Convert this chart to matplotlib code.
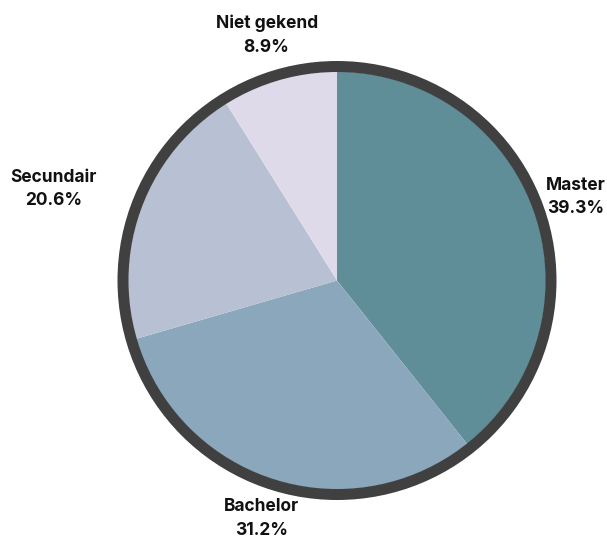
import numpy as np
import matplotlib
matplotlib.use("Agg")
import matplotlib.pyplot as plt
from matplotlib.patches import Circle

# Opleidingsniveau
categories = ["Master", "Bachelor", "Secundair", "Niet gekend"]
values = [39.3, 31.2, 20.6, 8.9]
colors = ["#5f8d98", "#8ba7bb", "#b7c1d3", "#dedaea"]

W, H = 607, 540
fig = plt.figure(figsize=(W / 100, H / 100), dpi=100)
ax = fig.add_axes([0, 0, 1, 1])

cx, cy = 337, H - 280.5
r = 209

wedges, _ = ax.pie(values, colors=colors, startangle=90, counterclock=False,
                   center=(cx, cy), radius=r, frame=True,
                   wedgeprops=dict(linewidth=0))
ax.set_xlim(0, W)
ax.set_ylim(0, H)
ax.set_aspect("equal")
ax.axis("off")

# donkere rand
ax.add_patch(Circle((cx, cy), r + 5, fill=False, edgecolor="#404040", linewidth=11 * 0.72))

# labels
dist = [1.21, 1.195, 1.23, 1.22]
align = ["center", "center", "right", "center"]
for w, name, v, d, ha in zip(wedges, categories, values, dist, align):
    ang = np.deg2rad((w.theta1 + w.theta2) / 2)
    x = cx + r * d * np.cos(ang)
    y = cy + r * d * np.sin(ang)
    ax.text(x, y, f"{name}\n{v:.1f}%", ha=ha, va="center", multialignment="center",
            fontsize=12.5, fontweight="bold", family=["Inter", "DejaVu Sans"],
            linespacing=1.5, color="#111111")

fig.savefig("out.png", dpi=100)
